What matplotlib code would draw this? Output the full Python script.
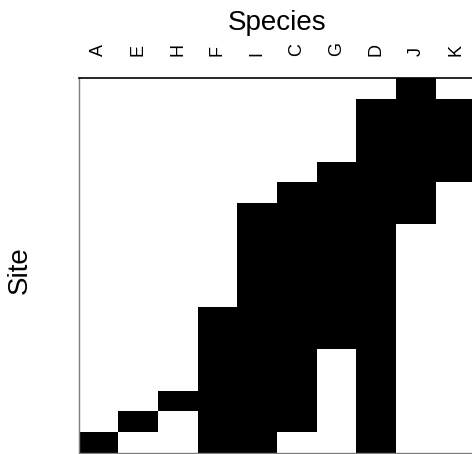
import matplotlib
matplotlib.use("Agg")
import matplotlib.pyplot as plt
import numpy as np
from matplotlib.colors import ListedColormap

plt.rcParams['font.family'] = ['Liberation Sans', 'DejaVu Sans']

# Species in column order
species = ["A", "E", "H", "F", "I", "C", "G", "D", "J", "K"]

# Presence (1) / absence (0) of each species, one list per site, top to bottom
presence = [
    [0, 0, 0, 0, 0, 0, 0, 0, 1, 0],
    [0, 0, 0, 0, 0, 0, 0, 1, 1, 1],
    [0, 0, 0, 0, 0, 0, 0, 1, 1, 1],
    [0, 0, 0, 0, 0, 0, 0, 1, 1, 1],
    [0, 0, 0, 0, 0, 0, 1, 1, 1, 1],
    [0, 0, 0, 0, 0, 1, 1, 1, 1, 0],
    [0, 0, 0, 0, 1, 1, 1, 1, 1, 0],
    [0, 0, 0, 0, 1, 1, 1, 1, 0, 0],
    [0, 0, 0, 0, 1, 1, 1, 1, 0, 0],
    [0, 0, 0, 0, 1, 1, 1, 1, 0, 0],
    [0, 0, 0, 0, 1, 1, 1, 1, 0, 0],
    [0, 0, 0, 1, 1, 1, 1, 1, 0, 0],
    [0, 0, 0, 1, 1, 1, 1, 1, 0, 0],
    [0, 0, 0, 1, 1, 1, 0, 1, 0, 0],
    [0, 0, 0, 1, 1, 1, 0, 1, 0, 0],
    [0, 0, 1, 1, 1, 1, 0, 1, 0, 0],
    [0, 1, 0, 1, 1, 1, 0, 1, 0, 0],
    [1, 0, 0, 1, 1, 0, 0, 1, 0, 0],
]

W, H = 472, 454
fig = plt.figure(figsize=(W / 100, H / 100), dpi=100)

# Axes extends a little past the right edge of the figure
left_px, top_px, bottom_px, width_px = 78.5, 78.3, 453.0, 397.0
ax = fig.add_axes([left_px / W, 1 - bottom_px / H,
                   width_px / W, (bottom_px - top_px) / H])

mat = np.array(presence)
n_sites, n_species = mat.shape
ax.pcolormesh(np.arange(n_species + 1), np.arange(n_sites + 1), mat,
              cmap=ListedColormap(["white", "black"]), vmin=0, vmax=1,
              shading="flat")
ax.set_xlim(0, n_species)
ax.set_ylim(n_sites, 0)

ax.xaxis.tick_top()
ax.set_xticks(np.arange(n_species) + 0.5)
ax.set_xticklabels(species, rotation=90, fontsize=13)
ax.tick_params(axis="x", length=0, pad=16)
ax.set_yticks([])

ax.spines["top"].set_color("black")
ax.spines["top"].set_linewidth(1.2)
for side in ("left", "bottom"):
    ax.spines[side].set_color("#7f7f7f")
    ax.spines[side].set_linewidth(1.0)
ax.spines["right"].set_visible(False)

fig.text(277 / W, 1 - 29.5 / H, "Species", ha="center", va="baseline",
         fontsize=20)
fig.text(19.5 / W, 1 - 270 / H, "Site", ha="center", va="center",
         rotation=90, fontsize=20)

fig.savefig("out.png", dpi=100)
